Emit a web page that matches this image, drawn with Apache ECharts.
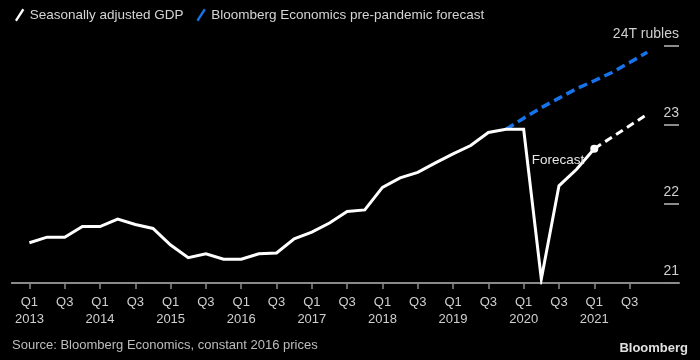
<!DOCTYPE html>
<html>
<head>
<meta charset="utf-8">
<script src="https://cdn.jsdelivr.net/npm/echarts@6/dist/echarts.min.js"></script>
<style>
html,body{margin:0;padding:0;background:#000;}
#chart{width:700px;height:360px;}
</style>
</head>
<body>
<div id="chart"></div>
<script>
// ---- data ----
// quarter index: 0 = Q1 2013
const actualQuarters = [0,1,2,3,4,5,6,7,8,9,10,11,12,13,14,15,16,17,18,19,20,21,22,23,24,25,26,27,28,29,30,31,32];
const actualGDP = [21.51,21.58,21.58,21.715,21.715,21.81,21.74,21.69,21.48,21.32,21.37,21.30,21.30,21.37,21.38,21.56,21.645,21.76,21.905,21.925,22.21,22.33,22.40,22.52,22.635,22.74,22.905,22.945,22.945,21.05,22.23,22.44,22.70];
const forecastQuarters = [32,33,34,35];
const forecastGDP = [22.70,22.845,22.99,23.135];
const preQuarters = [27,28,29,30,31,32,33,34,35];
const prePandemic = [22.945,23.086,23.22,23.34,23.46,23.56,23.665,23.79,23.92];
const xTickValues = [0,2,4,6,8,10,12,14,16,18,20,22,24,26,28,30,32,34];
const xTickLabels = ['Q1\n2013','Q3','Q1\n2014','Q3','Q1\n2015','Q3','Q1\n2016','Q3','Q1\n2017','Q3','Q1\n2018','Q3','Q1\n2019','Q3','Q1\n2020','Q3','Q1\n2021','Q3'];
const yTickValues = [21,22,23,24];
const yTickLabels = ['21','22','23','24T rubles'];
const seriesNames = ['Seasonally adjusted GDP','Bloomberg Economics pre-pandemic forecast'];

const FONT='"Liberation Sans", Arial, sans-serif';
const pair = (xs, ys) => xs.map((x,i)=>[x, ys[i]]);

const chart = echarts.init(document.getElementById('chart'), null, {renderer:'canvas'});
chart.setOption({
  backgroundColor:'#000',
  animation:false,
  textStyle:{fontFamily:FONT},
  grid:{left:11.75, right:21, top:46, bottom:77, containLabel:false},
  legend:{
    left:10, top:3, itemWidth:10, itemHeight:13, itemGap:13,
    data:seriesNames.map(n=>({name:n, icon:'path://M0,12.5 L8,0 L10,1.5 L2,14 Z'})),
    textStyle:{color:'#d4d4d4', fontSize:13.5, fontFamily:FONT},
    selectedMode:false
  },
  xAxis:{
    type:'value', min:-1, max:36.8,
    splitLine:{show:false},
    axisLine:{show:true, onZero:false, lineStyle:{color:'#8a8a8a', width:2}},
    axisTick:{show:true, customValues:xTickValues, length:6, lineStyle:{color:'#8a8a8a', width:1.5}},
    axisLabel:{
      customValues:xTickValues, color:'#cfcfcf', fontSize:13, lineHeight:17, margin:11,
      fontFamily:FONT,
      formatter:(v)=>{const i=xTickValues.indexOf(Math.round(v)); return i>=0?xTickLabels[i]:'';}
    }
  },
  yAxis:{
    type:'value', position:'right', min:21, max:24, interval:1,
    splitLine:{show:false},
    axisLine:{show:false, onZero:false},
    axisTick:{show:true, inside:true, length:15, lineStyle:{color:'#8c8c8c', width:2}},
    axisLabel:{
      inside:true, margin:0, align:'right', verticalAlign:'bottom', padding:[0,0,5,0],
      color:'#cfcfcf', fontSize:14, fontFamily:FONT,
      formatter:(v)=>{const i=yTickValues.indexOf(Math.round(v)); return i>=0?yTickLabels[i]:'';}
    }
  },
  series:[
    {
      name:seriesNames[1], type:'line', data:pair(preQuarters, prePandemic),
      symbol:'none', color:'#1673ea',
      lineStyle:{color:'#1673ea', width:3.5, type:[9,5]}, z:2
    },
    {
      name:seriesNames[0], type:'line', data:pair(actualQuarters, actualGDP),
      symbol:'none', color:'#ffffff',
      lineStyle:{color:'#ffffff', width:3, join:'miter'}, z:3
    },
    {
      name:'GDP forecast', type:'line', data:pair(forecastQuarters, forecastGDP),
      symbol:'none', color:'#ffffff',
      lineStyle:{color:'#ffffff', width:3, type:[8,5]}, z:3,
      markPoint:{
        symbol:'circle', symbolSize:8,
        itemStyle:{color:'#ffffff'},
        label:{show:true, formatter:'Forecast', position:'left', distance:6, offset:[0,12],
               color:'#e6e6e6', fontSize:13.5, fontFamily:FONT},
        data:[{coord:[forecastQuarters[0], forecastGDP[0]]}]
      }
    }
  ],
  graphic:[
    {type:'text', left:12, top:339, style:{text:'Source: Bloomberg Economics, constant 2016 prices', fill:'#bdbdbd', font:'13px '+FONT}},
    {type:'text', right:12, top:342, style:{text:'Bloomberg', fill:'#e0e0e0', font:'bold 13px "Liberation Sans", Arial, sans-serif'}}
  ]
});
</script>
</body>
</html>
